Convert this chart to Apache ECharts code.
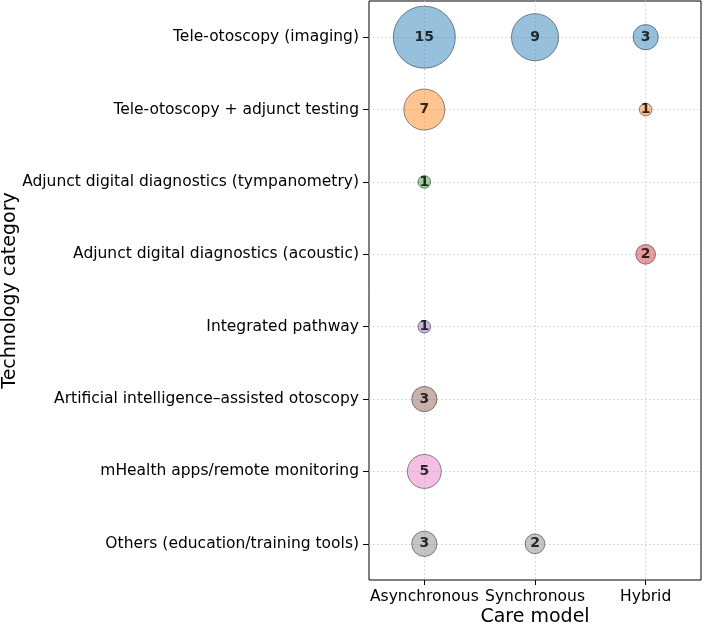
<!DOCTYPE html>
<html>
<head>
<meta charset="utf-8">
<script src="https://cdn.jsdelivr.net/npm/echarts@6/dist/echarts.min.js"></script>
<style>
  html, body { margin: 0; padding: 0; background: #fff; }
  #chart { width: 703px; height: 624px; }
</style>
</head>
<body>
<div id="chart"></div>
<script>
// care models (x) and technology categories (y, top to bottom)
const careModels = ['Asynchronous', 'Synchronous', 'Hybrid'];
const categories = [
  'Tele-otoscopy (imaging)',
  'Tele-otoscopy + adjunct testing',
  'Adjunct digital diagnostics (tympanometry)',
  'Adjunct digital diagnostics (acoustic)',
  'Integrated pathway',
  'Artificial intelligence–assisted otoscopy',
  'mHealth apps/remote monitoring',
  'Others (education/training tools)'
];
// counts per category: [Asynchronous, Synchronous, Hybrid]
const counts = [
  [15, 9, 3],
  [7, 0, 1],
  [1, 0, 0],
  [0, 0, 2],
  [1, 0, 0],
  [3, 0, 0],
  [5, 0, 0],
  [3, 2, 0]
];
const rowColors = ['#1f77b4', '#ff7f0e', '#2ca02c', '#d62728', '#9467bd', '#8c564b', '#e377c2', '#7f7f7f'];

const FONT = 'DejaVu Sans';

// hex -> rgba with alpha (matplotlib alpha=0.6 look)
const fade = (hex, a) => {
  const n = parseInt(hex.slice(1), 16);
  return 'rgba(' + (n >> 16) + ',' + ((n >> 8) & 255) + ',' + (n & 255) + ',' + a + ')';
};

// bubble diameter grows with sqrt(count)
const bubbleSize = (v) => 17.2 * Math.sqrt(v) - 4.5;

const series = categories.map((cat, row) => ({
  type: 'scatter',
  name: cat,
  data: counts[row]
    .map((v, col) => [col, row, v])
    .filter((d) => d[2] > 0),
  symbolSize: (d) => bubbleSize(d[2]),
  itemStyle: {
    color: fade(rowColors[row], 0.58),
    borderColor: 'rgba(0,0,0,0.55)',
    borderWidth: 1
  },
  label: {
    show: true,
    position: 'inside',
    formatter: (p) => p.data[2],
    color: '#000',
    textBorderWidth: 0,
    fontFamily: FONT,
    fontWeight: 'bold',
    fontSize: 14
  },
  emphasis: { disabled: true },
  z: 3
}));

const gridLine = {
  show: true,
  alignWithLabel: true,
  lineStyle: { color: '#cfcfcf', type: [1.5, 2.5], width: 1 }
};

const chart = echarts.init(document.getElementById('chart'), null, { renderer: 'canvas' });
chart.setOption({
  animation: false,
  backgroundColor: '#fff',
  grid: {
    left: 369, top: 1, width: 332, height: 579,
    outerBoundsMode: 'none',
    containLabel: false,
    show: true, borderColor: '#000', borderWidth: 1, backgroundColor: 'transparent'
  },
  xAxis: {
    type: 'category',
    data: careModels,
    boundaryGap: true,
    name: 'Care model',
    nameLocation: 'middle',
    nameGap: 28,
    nameMoveOverlap: false,
    nameTextStyle: { fontFamily: FONT, fontSize: 19, color: '#000' },
    axisLine: { show: false },
    axisTick: { show: true, alignWithLabel: true, length: 5, lineStyle: { color: '#000' } },
    axisLabel: { interval: 0, hideOverlap: false, fontFamily: FONT, fontSize: 15.5, color: '#000', margin: 9 },
    splitLine: gridLine
  },
  yAxis: {
    type: 'category',
    data: categories,
    inverse: true,
    boundaryGap: true,
    name: 'Technology category',
    nameLocation: 'middle',
    nameGap: 349,
    nameMoveOverlap: false,
    nameRotate: 90,
    nameTextStyle: { fontFamily: FONT, fontSize: 19, color: '#000' },
    axisLine: { show: false },
    axisTick: { show: true, alignWithLabel: true, length: 6, lineStyle: { color: '#000' } },
    axisLabel: { interval: 0, hideOverlap: false, fontFamily: FONT, fontSize: 15.5, color: '#000', margin: 10 },
    splitLine: gridLine
  },
  series: series
});
</script>
</body>
</html>
